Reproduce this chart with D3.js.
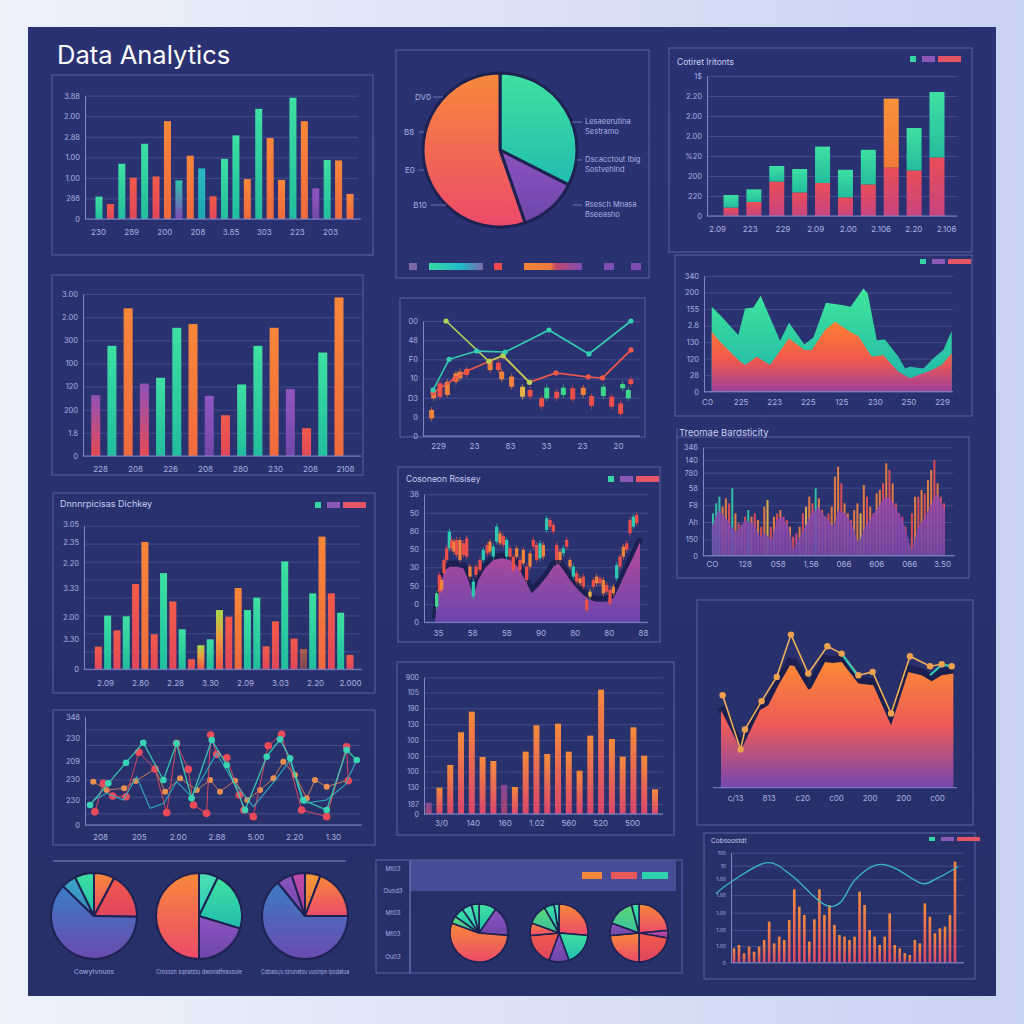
<!DOCTYPE html>
<html><head><meta charset="utf-8">
<script src="https://cdn.jsdelivr.net/npm/d3@7"></script>
<style>
html,body{margin:0;padding:0;background:#dfe6f6;}
svg{display:block;}
text{font-family:Inter,"Open Sans",sans-serif;}
</style></head><body>
<svg id="c" width="1024" height="1024"></svg>
<script>
// ================= DATA =================
// Panel 1 – "Data Analytics" bars
const p1Values=[1.09,0.73,2.69,2.01,3.66,2.07,4.76,1.88,3.08,2.46,1.10,2.93,4.07,1.94,5.36,3.94,1.90,5.90,4.76,1.49,2.87,2.85,1.22];
const p1Colors=['t','r','t','r','t','r','o','tp','o','tb','r','t','t','o','t','o','o','t','o','p','t','o','o'];
const p1YTicks=["0","288","1.00","1.00","2.88","2.00","3.88"];
const p1XLabels=["230","289","200","208","3.85","303","223","203"];
// Panel 2 – pie
const p2Slices=[117,44,199];
const p2Colors=['pT','pP','pO'];
const p2LeftLabels=["DV0","B8","E0","B10"];
const p2RightLabels=[["Lesaeerutina","Sestramo"],["Dscacctout Ibig","Sostvehlnd"],["Rsesch Mnasa","Bseeasho"]];
// Panel 3 – stacked bars
const p3Base=[0.42,0.70,1.72,1.18,1.65,0.93,1.58,2.42,2.28,2.93];
const p3Top=[0.63,0.63,0.78,1.17,1.82,1.38,1.73,3.45,2.12,3.27];
const p3TopColors=['t','t','t','t','t','t','t','o2','t','t'];
const p3YTicks=["0","220","200","%20","2.00","2.00","2.20","1$"];
const p3XLabels=["2.09","223","229","2.09","2.00","2.106","2.20","2.106"];
// Panel 4 – bars
const p4Values=[2.63,4.76,6.38,3.13,3.38,5.54,5.70,2.60,1.76,3.09,4.76,5.54,2.89,1.20,4.47,6.85];
const p4Colors=['pr','t','o','pr','t','t','o','p','r','t','t','o','p','r','t','o'];
const p4YTicks=["0","1.8","200","120","100","300","2.00","3.00"];
const p4XLabels=["228","208","226","208","280","230","208","2108"];
// Panel 5 – lines + candles
const p5TealA=[[1.5,2.4],[9.4,4.0],[23,4.43],[37,4.38],[58.6,5.53],[78.3,4.28],[99,6.0]];
const p5TealB=[[7.9,6.0],[29,3.9],[36,4.2],[49,2.8]];
const p5Red=[[1.5,2.25],[12.3,3.0],[18.2,3.39],[29.6,3.91],[36,4.17],[49,2.8],[62,3.29],[78,3.08],[85,3.03],[99,4.49]];
const p5Candles=[[0.8,0.92,1.36,'o'],[1.8,1.97,2.31,'o'],[4.9,2.05,2.75,'r'],[8.5,2.14,2.83,'o'],[12.8,2.83,3.27,'o'],[14.8,3.01,3.36,'o'],[18,3.18,3.48,'r'],[29.6,3.44,3.88,'o'],[33.7,3.44,3.83,'r'],[35.3,2.96,3.36,'o'],[40.2,2.57,3.10,'o'],[45.6,2.05,2.57,'y'],[49.3,2.05,2.40,'r'],[55,1.53,1.97,'r'],[57.5,1.97,2.52,'g'],[62.4,1.97,2.31,'r'],[65.7,2.14,2.52,'g'],[70.3,1.91,2.49,'r'],[75.5,2.14,2.52,'o'],[79.6,1.57,2.09,'r'],[85.4,2.09,2.57,'g'],[89.5,1.53,2.05,'r'],[93.9,1.15,1.70,'r'],[94.9,2.49,2.71,'g'],[97.7,1.97,2.40,'g'],[98.9,2.71,2.96,'r']];
const p5YTicks=["0","0","D3","10","F0","48","00"];
const p5XLabels=["229","23","83","33","23","20"];
// Panel 6 – area
const p6Teal=[[0,5.14],[3.5,4.64],[11.1,3.43],[13.9,5.04],[17.4,5.10],[20.4,5.80],[28.5,3.08],[32.2,4.17],[38.6,2.86],[42.4,3.29],[47.6,5.38],[54.2,5.24],[57.9,5.14],[63.2,6.25],[65,5.95],[68.8,3.12],[72.2,3.16],[77.8,2.12],[80.6,1.41],[82.6,1.51],[88.2,1.41],[92.4,2.02],[96.5,2.52],[100,3.67]];
const p6Orange=[[0,3.63],[3.5,3.02],[11.1,1.92],[13.9,1.61],[18.8,2.12],[24.3,1.61],[32.2,3.23],[38.6,2.52],[41.7,2.52],[47.2,3.73],[51.4,4.23],[57.6,3.63],[61.1,3.37],[66.7,2.12],[71.5,2.20],[77.8,1.21],[82.6,0.81],[88.2,1.11],[91.7,1.31],[95.8,1.61],[100,2.32]];
const p6YTicks=["0","28","120","130","2.8","155","200","340"];
const p6XLabels=["C0","225","223","225","125","230","250","229"];
// Panel 7 – "Treomae Bardsticity"
const p7Bars=[127,157,177,147,172,157,202,127,97,92,117,137,117,127,107,87,147,167,87,117,127,137,117,107,87,57,67,87,127,147,177,157,202,172,137,117,127,147,237,267,217,157,127,107,137,157,127,212,177,147,127,187,197,217,277,257,217,157,127,117,87,37,127,177,177,197,187,227,257,287,217,177,157];
const p7BarColors="tttoortorortororoyroromrormoryortororoooroorooyororoororormmrorororoororr";
const p7Area=[[0,87],[2,137],[4,117],[6,87],[7.5,72],[10,107],[12.5,97],[14.5,57],[16,67],[18,47],[19.5,107],[21,117],[23,87],[24.5,17],[26,47],[28,87],[30,127],[32,147],[34,117],[36.5,87],[38,137],[40,127],[42,97],[44,37],[46,87],[48,117],[50,147],[52,177],[54,167],[56,127],[58,87],[60,17],[62,87],[64,117],[66,157],[67.5,187],[69,157],[70,137]];
const p7YVals=[0,49,101,151,204,249,287,325];
const p7YTicks=["0","150","Ah","F8","58","780","140","346"];
const p7XLabels=["CO","128","058","1,56","066","606","066","3.50"];
// Panel 8 – bars
const p8Values=[1.26,2.99,2.17,2.95,4.75,7.09,1.95,5.36,3.78,2.23,0.56,1.34,1.67,3.30,2.93,4.53,3.30,3.99,1.28,2.67,6.01,1.71,1.13,4.23,7.39,4.23,3.15,0.80];
const p8Colors=['r','t','r','t','r','o','r','t','r','t','r','y','t','y','r','o','t','t','r','r','t','r','ob','t','o','r','t','r'];
const p8YVals=[0,1.7,2.9,4.5,5.9,7.1,8.1];
const p8YTicks=["0","3.30","2.00","3.33","2.20","2.35","3.05"];
const p8XLabels=["2.09","2.80","2.28","3.30","2.09","3.03","2.20","2.000"];
// Panel 9 – candles over area
const p9Area=[[0.8,2],[1.6,57],[3.2,107],[5.6,157],[8,167],[11.2,167],[14.4,162],[16.8,127],[19.2,77],[21.6,127],[24.8,162],[28.8,187],[32.8,192],[36.8,187],[40.8,167],[44.8,117],[47.2,87],[50.4,107],[54.4,137],[57.6,167],[60,177],[62.4,157],[65.6,127],[68.8,102],[72,82],[75.2,67],[78.4,62],[83.2,62],[86.4,72],[89.6,112],[92.8,157],[96,197],[99.2,242]];
const p9Candles=[[1.6,47,87,'g'],[2.9,92,142,'r'],[4,97,127,'o'],[5.1,147,187,'r'],[6.4,187,222,'r'],[7.7,222,272,'t'],[8.8,222,247,'r'],[9.9,212,242,'o'],[11.2,202,247,'r'],[12.8,187,247,'o'],[14.4,202,237,'r'],[16,197,252,'r'],[17.6,137,167,'o'],[19.2,77,122,'t'],[20.5,142,167,'r'],[22.4,157,187,'r'],[24,187,217,'t'],[25.9,207,232,'r'],[27.2,212,242,'o'],[28.8,197,227,'t'],[30.4,242,287,'t'],[32,237,267,'o'],[33.6,232,259,'r'],[35.2,197,247,'t'],[36.8,197,222,'r'],[38.4,157,197,'r'],[40,197,222,'o'],[41.6,157,187,'r'],[43.2,177,217,'o'],[44.8,127,167,'r'],[46.4,167,207,'o'],[48,227,247,'r'],[49.6,187,232,'r'],[51.2,192,237,'t'],[52.8,197,232,'o'],[54.4,277,312,'t'],[56,287,307,'r'],[57.6,272,292,'r'],[59.2,187,232,'r'],[60.8,187,212,'o'],[62.4,207,222,'t'],[64,227,247,'r'],[65.6,167,187,'o'],[67.2,137,167,'t'],[68.8,122,147,'r'],[70.4,117,132,'o'],[72,107,137,'r'],[73.6,37,67,'r'],[75.2,77,92,'y'],[76.8,107,127,'r'],[78.4,117,137,'o'],[80,117,132,'r'],[81.6,87,127,'o'],[83.2,92,112,'r'],[84.8,57,97,'r'],[86.4,87,107,'o'],[88,132,172,'t'],[89.6,167,197,'r'],[91.2,197,227,'o'],[92.8,217,237,'r'],[94.4,267,307,'r'],[96,287,317,'t'],[97.6,297,322,'r']];
const p9YVals=[0,55,110,165,219,274,329,384];
const p9YTicks=["0","0","50","30","50","80","50","38"];
const p9XLabels=["35","58","58","90","80","80","88"];
// Panel 10 – area + line
const p10Area=[[0,233],[8.6,113],[16.7,233],[20.3,248],[24.6,308],[29.6,368],[31.4,366],[37.4,295],[38.6,298],[44.6,378],[47.7,375],[51.7,378],[58.9,313],[65.3,308],[72.9,188],[80.3,348],[86,338],[90.3,320],[94.6,338],[99.6,343]];
const p10Line=[[0.7,278],[8.4,115],[10.3,175],[17.4,260],[23.9,333],[30,460],[37.4,343],[45.6,425],[51.7,403],[58.9,338],[65,348],[72.9,223],[81,395],[89.6,365],[94.6,371],[98.9,365]];
const p10TealA=[[51.7,403],[58.9,333]];
const p10TealB=[[89.6,338],[94.6,370],[98.9,365]];
const p10XLabels=["c/13","813","c20","c00","200","200","c00"];
// Panel 11 – bars
const p11Values=[34,79,147,245,307,171,159,87,81,187,266,180,271,187,130,235,373,225,172,260,175,74];
const p11Colors=['pp','op','op','op','op','op','op','pp','op','op','op','op','op','op','op','op','op','op','op','op','op','op'];
const p11YVals=[0,30,80,127,174,222,269,317,364,410];
const p11YTicks=["0","187","130","100","100","100","130","190","105","900"];
const p11XLabels=["3/0","140","160","1.02","560","520","500"];
// Panel 12 – multi lines
const p12TealA=[[1.1,60],[7.8,125],[14.3,187],[20.6,247],[28,135],[32.8,245],[38.3,80],[45.7,255],[51.2,180],[57.9,45],[65.8,205],[70.7,257],[74.4,200],[79.2,75],[87.8,45],[95.1,225],[98.8,195]];
const p12TealB=[[2.3,75],[7.2,95],[13.3,75],[18.2,145],[23.1,50],[28.2,65],[32.8,130],[38.3,85],[47.5,215],[53.6,130],[60.9,55],[69.5,140],[74.4,195],[79.2,65],[87.8,75],[94.5,120],[98.8,195]];
const p12Red=[[2.9,40],[6,125],[9.4,87],[14.3,85],[19,218],[24.9,168],[29.2,37],[32.8,245],[37.1,167],[39,60],[43.8,35],[45.3,270],[47.5,212],[51.2,202],[55.8,90],[57.5,45],[60.9,25],[66.4,238],[71.3,272],[78.6,45],[87.8,25],[95.1,235],[95.7,133]];
const p12Orange=[[2.3,130],[7.2,105],[13.6,110],[17.8,132],[24.9,168],[28.6,100],[34.1,140],[40.2,105],[45.1,135],[48.7,100],[54.2,133],[58.7,75],[63.4,105],[68.3,140],[71.9,190],[76.2,150],[80.5,80],[83.5,135],[87.8,115],[95.7,135]];
const p12GridVals=[0,35,85,137,190,240,287];
const p12YVals=[0,75,137,192,262,325];
const p12YTicks=["0","230","230","209","230","348"];
const p12XLabels=["208","205","2.00","2.88","5.00","2.20","1.30"];
// Panel 13 – three pies
const p13Pies=[[28,63,223,20,26],[26,81,73,180],[21,69,231,21,18]];
const p13Colors=[['pO','pR','pB','pBT','pT'],['pTL','pT','pP','pO'],['pO2','pO','pB','pP','pM']];
const p13Labels=["Cowytvnuos","Crosssn sqnatstu dwonatfeausuie","Cdsasu/u strunatsu uusinpe Ipsdatua"];
// Panel 14 – three small pies
const p14Pies=[[35,60,195,15,20,20,15],[95,65,40,65,25,40,20,10],[85,15,80,85,25,55,15]];
const p14Colors=[['pT','pP','pO','pG','pT','pTL','pT'],['pO','pT','pP','pR','pO','pG','pT','pTL'],['pO','pM','pR','pO','pP','pG','pT']];
const p14YLabels=["Mt03","Ouod3","Mt03","Mt03","Ou03"];
// Panel 15 – bars + smooth line
const p15Bars=[43,53,28,48,33,48,68,123,58,78,68,128,220,168,143,63,130,220,143,173,113,83,78,68,78,213,173,98,78,53,78,148,53,43,28,23,68,58,178,138,88,103,108,143,303];
const p15Line=[[0,208],[7.4,248],[21,300],[31,263],[44,178],[51,178],[57.4,248],[66,293],[74,283],[85,238],[91.3,253],[100,288]];
const p15YVals=[0,50,98,150,203,250,291,330];
const p15YTicks=["0","1.00","1.00","1.00","1.00","1.00","10","100"];

// ================= STYLE =================
const BORDER='#5a62a6', GRID='rgba(130,140,210,0.30)', AXIS='#7e87c8', TICK='#aab1e0';
const CANDLE={o:'#f0823e',r:'#ea4f4a',g:'#3fd68a',t:'#2fc9b0',y:'#e8b448'};
const P7C={t:'#33d0a8',o:'#f4853e',r:'#ec5052',y:'#f0b84a',m:'#d8468c'};

const svg=d3.select('#c');
const defs=svg.append('defs');
function lg(id,stops,h){
  const g=defs.append('linearGradient').attr('id',id).attr('x1',0).attr('y1',0).attr('x2',h?1:0).attr('y2',h?0:1);
  stops.forEach(s=>g.append('stop').attr('offset',s[0]).attr('stop-color',s[1]).attr('stop-opacity',s[2]==null?1:s[2]));
}
lg('bg',[[0,'#eef2fb'],[1,'#c8d2f1']],true);
lg('navy',[[0,'#2b3274'],[1,'#283069']]);
lg('gt',[[0,'#3ee0a2'],[1,'#22bd9e']]);
lg('gr',[[0,'#f25a4a'],[1,'#e0475a']]);
lg('go',[[0,'#f8873a'],[1,'#ef6a3e']]);
lg('go2',[[0,'#f8923a'],[1,'#f27a36']]);
lg('gob',[[0,'#c86a3e',0.8],[1,'#a0504a',0.7]]);
lg('gp',[[0,'#9156c0'],[1,'#7448aa']]);
lg('gpr',[[0,'#8f52b8'],[1,'#e64a55']]);
lg('gtp',[[0,'#2cc7a8'],[1,'#8048b8']]);
lg('gtb',[[0,'#2ab9c4'],[1,'#1fa7b0']]);
lg('gy',[[0,'#a9d84a'],[0.45,'#e9a040'],[1,'#ef5346']]);
lg('gsr',[[0,'#ea4d58'],[1,'#c7457f']]);
lg('gop',[[0,'#f48b3b'],[1,'#d8466d']]);
lg('gpp',[[0,'#9a4f9f',0.8],[1,'#c0456e',0.8]]);
lg('a6t',[[0,'#3fe69a'],[1,'#1eb3ac']]);
lg('a6o',[[0,'#ff7f33'],[0.55,'#f0584e'],[1,'#a0409a']]);
lg('a7',[[0,'#9a48b0'],[1,'#6b46aa']]);
lg('a9',[[0,'#b84a9a'],[1,'#6a46ad']]);
lg('a10',[[0,'#fb8a34'],[0.5,'#ee5a58'],[1,'#7447b0']]);
lg('pO',[[0,'#f7893a'],[1,'#ec4a6a']]);
lg('pO2',[[0,'#f79a3c'],[1,'#f0703a']]);
lg('pT',[[0,'#3ee1a0'],[1,'#22bdb0']]);
lg('pTL',[[0,'#4be0b5'],[1,'#2fc9b8']]);
lg('pP',[[0,'#8a55be'],[1,'#6e46aa']]);
lg('pB',[[0,'#3b7cc4'],[1,'#6a4aae']]);
lg('pBT',[[0,'#3aa6c8'],[1,'#3a8ac0']]);
lg('pR',[[0,'#f05a4a'],[1,'#e0455f']]);
lg('pM',[[0,'#c04aa8'],[1,'#a0409a']]);
lg('pG',[[0,'#5ad878'],[1,'#39c09a']]);
lg('legA',[[0,'#3ad9a4'],[0.6,'#20b8c8'],[1,'#7a6aa8']],true);
lg('legB',[[0,'#f5853a'],[0.45,'#f07a38'],[0.55,'#c0486a'],[1,'#7e4db4']],true);

svg.append('rect').attr('width',1024).attr('height',1024).attr('fill','url(#bg)');
svg.append('rect').attr('x',28).attr('y',27).attr('width',968).attr('height',969).attr('fill','url(#navy)');

// ================= HELPERS =================
function box(x0,y0,x1,y1){svg.append('rect').attr('x',x0).attr('y',y0).attr('width',x1-x0).attr('height',y1-y0).attr('fill','none').attr('stroke',BORDER).attr('stroke-width',1);}
function grid(y,x0,x1,vals){
  const g=svg.append('g').attr('transform',`translate(${x0},0)`).call(d3.axisLeft(y).tickValues(vals).tickSize(-(x1-x0)).tickFormat(''));
  g.select('.domain').remove(); g.selectAll('.tick line').attr('stroke',GRID);
}
function yLab(y,x0,vals,labels,fs){
  const g=svg.append('g').attr('transform',`translate(${x0},0)`).call(d3.axisLeft(y).tickValues(vals).tickSize(0).tickSizeOuter(0).tickPadding(5).tickFormat((d,i)=>labels[i]));
  g.select('.domain').attr('stroke',AXIS);
  g.selectAll('.tick text').attr('fill',TICK).attr('font-size',fs||7.5).attr('font-family','Inter, sans-serif');
}
function xLab(a,b,yPos,labels,fs){
  const x=d3.scaleLinear().domain([0,labels.length-1]).range([a,b]);
  const g=svg.append('g').attr('transform',`translate(0,${yPos})`).call(d3.axisBottom(x).tickValues(d3.range(labels.length)).tickSize(0).tickPadding(0).tickFormat(i=>labels[i]));
  g.select('.domain').remove();
  g.selectAll('.tick text').attr('fill',TICK).attr('font-size',fs||8).attr('dy','0.35em').attr('font-family','Inter, sans-serif');
}
function hline(x0,x1,y){svg.append('line').attr('x1',x0).attr('x2',x1).attr('y1',y).attr('y2',y).attr('stroke',AXIS).attr('stroke-width',1);}
function bars(x,y,vals,keys,w){
  svg.append('g').selectAll('rect').data(vals).join('rect')
   .attr('x',(d,i)=>x(i)-w/2).attr('y',d=>y(d)).attr('width',w).attr('height',d=>y(0)-y(d))
   .attr('fill',(d,i)=>`url(#g${keys[i]})`);
}
function title(x,y,t,fs){svg.append('text').attr('x',x).attr('y',y).attr('fill','#c9cdf0').attr('font-size',fs||9).text(t);}
function legend3(x,y,h){
  svg.append('rect').attr('x',x).attr('y',y).attr('width',6).attr('height',h).attr('fill','#36d6a4');
  svg.append('rect').attr('x',x+12).attr('y',y).attr('width',13).attr('height',h).attr('fill','#8a58b6');
  svg.append('rect').attr('x',x+28).attr('y',y).attr('width',23).attr('height',h).attr('fill','#e65468');
}
function pie(cx,cy,r,vals,keys,sw){
  const arcs=d3.pie().sort(null).value(d=>d)(vals);
  const arc=d3.arc().innerRadius(0).outerRadius(r);
  svg.append('g').attr('transform',`translate(${cx},${cy})`).selectAll('path').data(arcs).join('path')
   .attr('d',arc).attr('fill',(d,i)=>`url(#${keys[i]})`).attr('stroke','#1d2252').attr('stroke-width',sw||2);
}
function candles(x,y,data,w){
  const g=svg.append('g');
  data.forEach(d=>{
    g.append('line').attr('x1',x(d[0])).attr('x2',x(d[0])).attr('y1',y(d[2])-3).attr('y2',y(d[1])+3).attr('stroke',CANDLE[d[3]]).attr('stroke-width',0.8).attr('opacity',0.8);
    g.append('rect').attr('x',x(d[0])-w/2).attr('y',y(d[2])).attr('width',w).attr('height',Math.max(1,y(d[1])-y(d[2]))).attr('fill',CANDLE[d[3]]);
  });
}

// ================= PANEL 1 =================
svg.append('text').attr('x',57).attr('y',64).attr('fill','#ffffff').attr('font-size',25.5).attr('font-weight',400).text('Data Analytics');
box(52,75,373,255);
{
  const y=d3.scaleLinear().domain([0,6]).range([219,95.7]);
  const x=d3.scaleLinear().domain([0,p1Values.length-1]).range([99,350]);
  grid(y,85,358,d3.range(7));
  bars(x,y,p1Values,p1Colors,7);
  yLab(y,85,d3.range(7),p1YTicks);
  hline(85,361,219);
  xLab(98,330,232,p1XLabels);
}
// ================= PANEL 2 =================
box(396,50,649,278);
pie(500,150,77,p2Slices,p2Colors,3);
{
  const lp=[[423,97,433,443],[409,132,419,424],[410,170,419,424],[420,205,431,446]];
  p2LeftLabels.forEach((t,i)=>{
    svg.append('text').attr('x',lp[i][0]).attr('y',lp[i][1]).attr('dy','0.35em').attr('text-anchor','middle').attr('fill',TICK).attr('font-size',8).text(t);
    svg.append('line').attr('x1',lp[i][2]).attr('x2',lp[i][3]).attr('y1',lp[i][1]).attr('y2',lp[i][1]).attr('stroke',AXIS).attr('stroke-width',0.8);
  });
  const rp=[[121,572],[159,577],[204,573]];
  p2RightLabels.forEach((t,i)=>{
    svg.append('line').attr('x1',rp[i][1]).attr('x2',582).attr('y1',rp[i][0]+1).attr('y2',rp[i][0]+1).attr('stroke',AXIS).attr('stroke-width',0.8);
    t.forEach((s,j)=>svg.append('text').attr('x',585).attr('y',rp[i][0]+j*10).attr('dy','0.35em').attr('fill',TICK).attr('font-size',7.5).text(s));
  });
  const leg=[[409,8,'#7a6aa8'],[429,54,'url(#legA)'],[494,8,'#ea4a4a'],[524,58,'url(#legB)'],[604,10,'#7e4db4'],[631,10,'#7e4db4']];
  leg.forEach(l=>svg.append('rect').attr('x',l[0]).attr('y',263).attr('width',l[1]).attr('height',7).attr('fill',l[2]));
}
// ================= PANEL 3 =================
box(669,48,972,252);
title(677,65,'Cotiret Iritonts',8.5);
legend3(910,56,6);
{
  const y=d3.scaleLinear().domain([0,7]).range([216,76]);
  const x=d3.scaleLinear().domain([0,p3Base.length-1]).range([731,937]);
  grid(y,707,957,d3.range(8));
  const g=svg.append('g');
  g.selectAll('.b').data(p3Base).join('rect').attr('x',(d,i)=>x(i)-7.5).attr('y',d=>y(d)).attr('width',15).attr('height',d=>y(0)-y(d)).attr('fill','url(#gsr)');
  g.selectAll('.t').data(p3Top).join('rect').attr('x',(d,i)=>x(i)-7.5).attr('y',(d,i)=>y(d+p3Base[i])).attr('width',15).attr('height',d=>y(0)-y(d)).attr('fill',(d,i)=>`url(#g${p3TopColors[i]})`);
  yLab(y,707,d3.range(8),p3YTicks);
  hline(707,957,216);
  xLab(717,946,229,p3XLabels);
}
// ================= PANEL 4 =================
box(52,275,363,475);
{
  const y=d3.scaleLinear().domain([0,7]).range([456,294]);
  const x=d3.scaleLinear().domain([0,p4Values.length-1]).range([95.7,339]);
  grid(y,83,361,d3.range(8));
  bars(x,y,p4Values,p4Colors,9);
  yLab(y,83,d3.range(8),p4YTicks);
  hline(83,361,456);
  xLab(100,345,469,p4XLabels);
}
// ================= PANEL 5 =================
box(400,298,645,437);
{
  const y=d3.scaleLinear().domain([0,6]).range([436,321]);
  const x=d3.scaleLinear().domain([0,100]).range([430,633]);
  grid(y,423,640,d3.range(7));
  candles(x,y,p5Candles,5);
  const line=d3.line().x(d=>x(d[0])).y(d=>y(d[1]));
  const ser=[[p5Red,'#ee5a4a'],[p5TealB,'#b6d258'],[p5TealA,'#33cfae']];
  ser.forEach(s=>{
    svg.append('path').attr('d',line(s[0])).attr('fill','none').attr('stroke',s[1]).attr('stroke-width',1.6);
    svg.append('g').selectAll('circle').data(s[0]).join('circle').attr('cx',d=>x(d[0])).attr('cy',d=>y(d[1])).attr('r',2.6).attr('fill',s[1]);
  });
  yLab(y,423,d3.range(7),p5YTicks);
  hline(423,640,436);
  xLab(438,618,446,p5XLabels);
}
// ================= PANEL 6 =================
box(675,255,972,416);
legend3(920,259,5);
{
  const y=d3.scaleLinear().domain([0,7]).range([391.7,276]);
  const x=d3.scaleLinear().domain([0,100]).range([711.7,951.7]);
  grid(y,704,953,d3.range(8));
  const area=d3.area().x(d=>x(d[0])).y0(y(0)).y1(d=>y(d[1]));
  svg.append('path').attr('d',area(p6Teal)).attr('fill','url(#a6t)');
  svg.append('path').attr('d',area(p6Orange)).attr('fill','url(#a6o)');
  yLab(y,704,d3.range(8),p6YTicks);
  hline(704,953,391.7);
  xLab(707,942,402,p6XLabels);
}
// ================= PANEL 7 =================
box(677,437,969,578);
svg.append('line').attr('x1',677).attr('x2',677).attr('y1',428).attr('y2',437).attr('stroke',BORDER);
title(679,436,'Treomae Bardsticity',9.5);
{
  const y=d3.scaleLinear().domain([0,325]).range([555.7,447.3]);
  const xa=d3.scaleLinear().domain([0,70]).range([711.7,945]);
  const xb=d3.scaleLinear().domain([0,p7Bars.length-1]).range([713,944]);
  grid(y,703,953,p7YVals);
  svg.append('g').selectAll('rect').data(p7Bars).join('rect')
    .attr('x',(d,i)=>xb(i)-1).attr('y',d=>y(d)).attr('width',2).attr('height',d=>y(0)-y(d))
    .attr('fill',(d,i)=>P7C[p7BarColors[i]]||P7C.o).attr('opacity',0.9);
  const area=d3.area().x(d=>xa(d[0])).y0(y(0)).y1(d=>y(d[1]));
  svg.append('path').attr('d',area(p7Area)).attr('fill','url(#a7)').attr('opacity',0.85);
  yLab(y,703,p7YVals,p7YTicks);
  hline(703,955,555.7);
  xLab(712,942,564,p7XLabels);
}
// ================= PANEL 8 =================
box(53,493,375,693);
title(60,507,'Dnnnrpicisas Dichkey',9);
legend3(315,502,6);
{
  const y=d3.scaleLinear().domain([0,8]).range([669.3,525.7]);
  const x=d3.scaleLinear().domain([0,p8Values.length-1]).range([98.3,350]);
  grid(y,84,360,d3.range(9));
  bars(x,y,p8Values,p8Colors,7);
  yLab(y,84,p8YVals,p8YTicks);
  hline(84,362,669.3);
  xLab(105,350,683,p8XLabels);
}
// ================= PANEL 9 =================
box(398,467,660,642);
title(406,482,'Cosoneon Rosisey',8.5);
legend3(608,476,6);
{
  const y=d3.scaleLinear().domain([0,384]).range([622.3,494.3]);
  const x=d3.scaleLinear().domain([0,100]).range([433.3,641.7]);
  grid(y,424,648,p9YVals);
  const area=d3.area().x(d=>x(d[0])).y0(y(0)).y1(d=>y(d[1]));
  const top=d3.line().x(d=>x(d[0])).y(d=>y(d[1]));
  svg.append('path').attr('d',top(p9Area)).attr('fill','none').attr('stroke','#1b2050').attr('stroke-width',6).attr('transform','translate(0,-3)');
  svg.append('path').attr('d',area(p9Area)).attr('fill','url(#a9)');
  candles(x,y,p9Candles,3.3);
  yLab(y,424,p9YVals,p9YTicks);
  hline(424,648,622.3);
  xLab(438,643,633,p9XLabels);
}
// ================= PANEL 10 =================
box(697,600,973,825);
{
  const y=d3.scaleLinear().domain([0,500]).range([787.7,621.3]);
  const x=d3.scaleLinear().domain([0,100]).range([721,954.3]);
  const area=d3.area().x(d=>x(d[0])).y0(y(0)).y1(d=>y(d[1]));
  const line=d3.line().x(d=>x(d[0])).y(d=>y(d[1]));
  svg.append('path').attr('d',line(p10Area)).attr('fill','none').attr('stroke','#1b2050').attr('stroke-width',8).attr('transform','translate(0,-3)');
  svg.append('path').attr('d',area(p10Area)).attr('fill','url(#a10)');
  svg.append('path').attr('d',line(p10Line)).attr('fill','none').attr('stroke','#f0b05a').attr('stroke-width',1.6);
  [p10TealA,p10TealB].forEach(s=>svg.append('path').attr('d',line(s)).attr('fill','none').attr('stroke','#2fc6b4').attr('stroke-width',2.2));
  svg.append('g').selectAll('circle').data(p10Line).join('circle').attr('cx',d=>x(d[0])).attr('cy',d=>y(d[1])).attr('r',3.2).attr('fill','#eda04e');
  hline(713,957,787.7);
  xLab(735,937,798,p10XLabels);
}
// ================= PANEL 11 =================
box(397,662,674,835);
{
  const y=d3.scaleLinear().domain([0,410]).range([814,677.3]);
  const x=d3.scaleLinear().domain([0,p11Values.length-1]).range([428.7,655]);
  grid(y,424,663,p11YVals);
  bars(x,y,p11Values,p11Colors,6);
  yLab(y,424,p11YVals,p11YTicks,7);
  hline(424,663,814);
  xLab(441,632,823,p11XLabels);
}
// ================= PANEL 12 =================
box(53,710,375,845);
{
  const y=d3.scaleLinear().domain([0,325]).range([825,716.7]);
  const x=d3.scaleLinear().domain([0,100]).range([87,360]);
  grid(y,85,360,p12GridVals);
  const line=d3.line().x(d=>x(d[0])).y(d=>y(d[1]));
  const ser=[[p12Orange,'#e88f52',3,0.9],[p12Red,'#e84a5a',3.8,1],[p12TealB,'#2fb6c8',0,1.1],[p12TealA,'#3ad4b4',3.3,1.3]];
  ser.forEach(s=>{
    svg.append('path').attr('d',line(s[0])).attr('fill','none').attr('stroke',s[1]).attr('stroke-width',s[3]).attr('opacity',0.9);
    if(s[2]>0) svg.append('g').selectAll('circle').data(s[0]).join('circle').attr('cx',d=>x(d[0])).attr('cy',d=>y(d[1])).attr('r',s[2]).attr('fill',s[1]);
  });
  yLab(y,85,p12YVals,p12YTicks);
  hline(85,362,825);
  xLab(100,333,837,p12XLabels);
}
// ================= PANEL 13 =================
svg.append('line').attr('x1',53).attr('x2',346).attr('y1',861).attr('y2',861).attr('stroke',AXIS);
{
  const cx=[94,199,305], lw=[40,86,88];
  p13Pies.forEach((p,i)=>{
    pie(cx[i],916,43,p,p13Colors[i],2);
    svg.append('text').attr('x',cx[i]).attr('y',972).attr('dy','0.35em').attr('text-anchor','middle').attr('fill',TICK).attr('font-size',6)
      .attr('textLength',lw[i]).attr('lengthAdjust','spacingAndGlyphs').text(p13Labels[i]);
  });
}
// ================= PANEL 14 =================
box(376,860,682,973);
svg.append('rect').attr('x',410).attr('y',860).attr('width',266).attr('height',31).attr('fill','#4b519c').attr('opacity',0.85);
svg.append('line').attr('x1',410).attr('x2',410).attr('y1',860).attr('y2',973).attr('stroke',AXIS);
[[582,20,'#f5893a'],[611,26,'#e8585a'],[642,26,'#2fd0ae']].forEach(l=>svg.append('rect').attr('x',l[0]).attr('y',872).attr('width',l[1]).attr('height',7).attr('fill',l[2]));
{
  const ly=[869,891,913,934,957];
  p14YLabels.forEach((t,i)=>svg.append('text').attr('x',393).attr('y',ly[i]).attr('dy','0.35em').attr('text-anchor','middle').attr('fill',TICK).attr('font-size',6).text(t));
  const cx=[479,559,639];
  p14Pies.forEach((p,i)=>pie(cx[i],933,29,p,p14Colors[i],1.6));
}
// ================= PANEL 15 =================
box(704,833,975,979);
title(711,843,'Cobsoostdt',6.5);
legend3(929,837,4);
{
  const y=d3.scaleLinear().domain([0,330]).range([962.7,852.7]);
  const xb=d3.scaleLinear().domain([0,p15Bars.length-1]).range([734,955]);
  const xl=d3.scaleLinear().domain([0,100]).range([716,958]);
  grid(y,731,964,p15YVals);
  svg.append('g').selectAll('rect').data(p15Bars).join('rect')
    .attr('x',(d,i)=>xb(i)-1.3).attr('y',d=>y(d)).attr('width',2.6).attr('height',d=>y(0)-y(d)).attr('fill','url(#gop)');
  const line=d3.line().x(d=>xl(d[0])).y(d=>y(d[1])).curve(d3.curveCardinal);
  svg.append('path').attr('d',line(p15Line)).attr('fill','none').attr('stroke','#3ab8c6').attr('stroke-width',1.3);
  yLab(y,731,p15YVals,p15YTicks,5);
  hline(731,964,962.7);
}
</script></body></html>
